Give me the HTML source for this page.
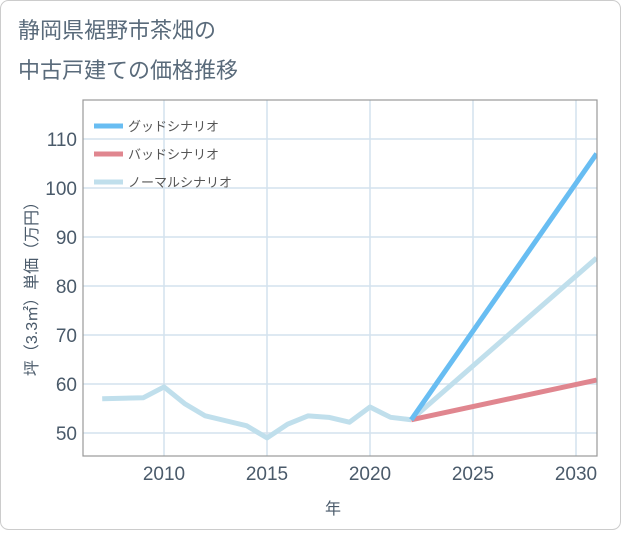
<!DOCTYPE html>
<html><head><meta charset="utf-8"><style>
body{margin:0;background:#fff;}
#wrap{position:relative;width:621px;height:530px;}
svg text{font-family:"Liberation Sans","Noto Sans CJK JP",sans-serif;}
</style></head><body>
<div id="wrap">
<svg id="chart" width="621" height="530" xmlns="http://www.w3.org/2000/svg">
<rect x="0.5" y="0.5" width="620" height="529" rx="8" fill="#fff" stroke="#ccc"/>
<text x="18" y="38" font-size="22" fill="#5a6b7b">静岡県裾野市茶畑の</text>
<text x="18" y="78" font-size="22" fill="#5a6b7b">中古戸建ての価格推移</text>
<g id="grid"></g>
<g id="series"></g>
<rect x="83" y="100" width="514" height="356" fill="none" stroke="#999" stroke-width="1.2"/>
<g id="axes"></g>
<text x="333" y="514" font-size="16" fill="#4a5a6a" text-anchor="middle">年</text>
<text transform="translate(37,285) rotate(-90)" font-size="16" fill="#4a5a6a" text-anchor="middle">坪（3.3㎡）単価（万円）</text>
<g id="legend"></g>
</svg>
</div>
<script>
const years=[2007,2008,2009,2010,2011,2012,2013,2014,2015,2016,2017,2018,2019,2020,2021,2022];
const history=[57,57.1,57.2,59.4,56,53.5,52.5,51.5,49,51.8,53.5,53.2,52.2,55.3,53.2,52.7];
const projYears=[2022,2031];
const goodVals=[52.7,107];
const badVals=[52.7,60.8];
const normalVals=[52.7,85.7];
const xTicks=[2010,2015,2020,2025,2030];
const yTicks=[50,60,70,80,90,100,110];
const legendLabels=["グッドシナリオ","バッドシナリオ","ノーマルシナリオ"];
const NS="http://www.w3.org/2000/svg";
function xs(y){return 164+(y-2010)*20.6;}
function ys(v){return 433-(v-50)*4.9;}
function mk(tag,attrs,parent){const e=document.createElementNS(NS,tag);for(const k in attrs)e.setAttribute(k,attrs[k]);parent.appendChild(e);return e;}
const grid=document.getElementById('grid'),axes=document.getElementById('axes'),ser=document.getElementById('series'),leg=document.getElementById('legend');
xTicks.forEach(t=>{
 const l=mk('line',{x1:xs(t),x2:xs(t),y1:100,y2:456,stroke:'#d3e2ee','stroke-width':1.5},grid);
 
 
 const tx=mk('text',{x:xs(t),y:480,'font-size':19,fill:'#4a5a6a','text-anchor':'middle'},axes);
 tx.textContent=t;
 
 
});
yTicks.forEach(t=>{
 const l=mk('line',{x1:83,x2:597,y1:ys(t),y2:ys(t),stroke:'#d3e2ee','stroke-width':1.5},grid);
 
 
 const tx=mk('text',{x:77,y:ys(t)+7,'font-size':19,fill:'#4a5a6a','text-anchor':'end'},axes);
 tx.textContent=t;
 
 
});
function line(xv,yv,color,name){
 const p=mk('polyline',{points:xv.map((x,i)=>xs(x)+','+ys(yv[i])).join(' '),fill:'none',stroke:color,'stroke-width':5,'stroke-linejoin':'round'},ser);
 
 
}
const clip=mk('clipPath',{id:'c'},document.getElementById('chart'));
mk('rect',{x:83,y:100,width:514,height:356},clip);
ser.setAttribute('clip-path','url(#c)');
line(years,history,'#c0dfec','history-line');
line(projYears,normalVals,'#c0dfec','normal-scenario-line');
line(projYears,badVals,'#e0868f','bad-scenario-line');
line(projYears,goodVals,'#68bdf2','good-scenario-line');
const lc=['#68bdf2','#e0868f','#c0dfec'];
legendLabels.forEach((s,i)=>{
 const y=126+i*28;
 const l=mk('line',{x1:94,x2:123,y1:y,y2:y,stroke:lc[i],'stroke-width':5},leg);
 
 
 const t=mk('text',{x:128,y:y+5,'font-size':13,fill:'#555'},leg);
 t.textContent=s;
 
 
});
</script>
</body></html>
